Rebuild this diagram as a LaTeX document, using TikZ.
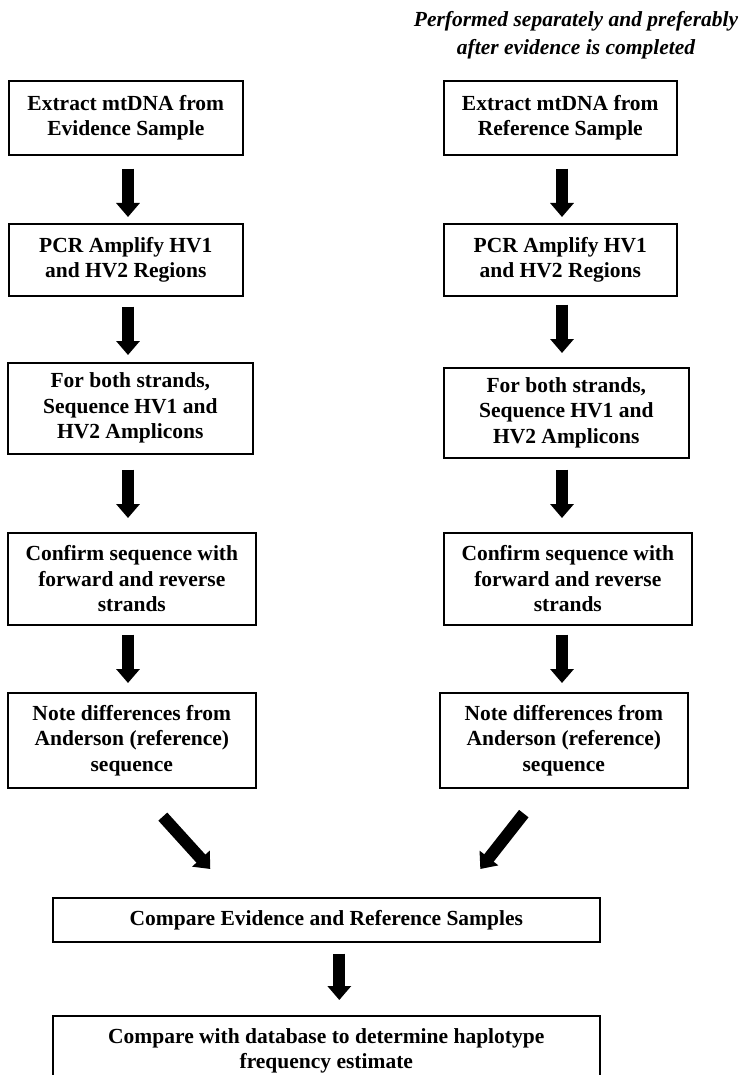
\documentclass[tikz,border=0pt]{standalone}
\usepackage{fontspec}
\setmainfont{Liberation Serif}
\usetikzlibrary{arrows.meta,calc}

\tikzset{
  stepbox/.style={draw=black, line width=1.6pt, rectangle, anchor=north west,
    align=center, inner sep=2pt, font=\bfseries\fontsize{21.5}{25.5}\selectfont},
  fatarrow/.style={draw=black, line width=12pt,
    -{Triangle[width=23pt,length=14pt]}},
  note/.style={align=center, font=\bfseries\itshape\fontsize{21.5}{28}\selectfont}
}

\begin{document}
\begin{tikzpicture}[x=1pt,y=-1pt]
  \useasboundingbox (0,0) rectangle (741,1075);
  \clip (0,0) rectangle (741,1075);

  % column axes for the vertical arrows
  \coordinate (colL) at (128,0);
  \coordinate (colR) at (562,0);

  % header over the reference column
  \node[note] (hdr) at (576,35) {Performed separately and preferably\\after evidence is completed};

  % evidence column
  \node[stepbox, minimum width=234pt, minimum height=74pt] (L1) at (8,80) {Extract mtDNA from\\Evidence Sample};
  \node[stepbox, minimum width=234pt, minimum height=72pt] (L2) at (8,223) {PCR Amplify HV1\\and HV2 Regions};
  \node[stepbox, minimum width=245pt, minimum height=91pt] (L3) at (7,362) {For both strands,\\Sequence HV1 and\\HV2 Amplicons};
  \node[stepbox, minimum width=248pt, minimum height=92pt] (L4) at (7,532) {Confirm sequence with\\forward and reverse\\strands};
  \node[stepbox, minimum width=248pt, minimum height=95pt] (L5) at (7,692) {Note differences from\\Anderson (reference)\\sequence};

  % reference column
  \node[stepbox, minimum width=233pt, minimum height=74pt] (R1) at (443,80) {Extract mtDNA from\\Reference Sample};
  \node[stepbox, minimum width=233pt, minimum height=72pt] (R2) at (443,223) {PCR Amplify HV1\\and HV2 Regions};
  \node[stepbox, minimum width=245pt, minimum height=90pt] (R3) at (443,367) {For both strands,\\Sequence HV1 and\\HV2 Amplicons};
  \node[stepbox, minimum width=248pt, minimum height=92pt] (R4) at (443,532) {Confirm sequence with\\forward and reverse\\strands};
  \node[stepbox, minimum width=248pt, minimum height=95pt] (R5) at (439,692) {Note differences from\\Anderson (reference)\\sequence};

  % joint steps
  \node[stepbox, minimum width=547pt, minimum height=44pt] (C1) at (52,897) {Compare Evidence and Reference Samples};
  \node[stepbox, minimum width=547pt, minimum height=70pt] (C2) at (52,1015) {Compare with database to determine haplotype\\frequency estimate};

  % vertical arrows, evidence column
  \draw[fatarrow, shorten <=13pt, shorten >=6pt] (L1.south -| colL) -- (L2.north -| colL);
  \draw[fatarrow, shorten <=10pt, shorten >=7pt] (L2.south -| colL) -- (L3.north -| colL);
  \draw[fatarrow, shorten <=15pt, shorten >=14pt] (L3.south -| colL) -- (L4.north -| colL);
  \draw[fatarrow, shorten <=9pt, shorten >=9pt] (L4.south -| colL) -- (L5.north -| colL);

  % vertical arrows, reference column
  \draw[fatarrow, shorten <=13pt, shorten >=6pt] (R1.south -| colR) -- (R2.north -| colR);
  \draw[fatarrow, shorten <=8pt, shorten >=14pt] (R2.south -| colR) -- (R3.north -| colR);
  \draw[fatarrow, shorten <=11pt, shorten >=14pt] (R3.south -| colR) -- (R4.north -| colR);
  \draw[fatarrow, shorten <=9pt, shorten >=9pt] (R4.south -| colR) -- (R5.north -| colR);

  % converging arrows
  \coordinate (tailL) at ($(L5.south)+(31,28)$);
  \coordinate (tipL) at ($(C1.north)+(-116,-28)$);
  \coordinate (tailR) at ($(R5.south)+(-40,25)$);
  \coordinate (tipR) at ($(C1.north)+(154,-28)$);
  \draw[fatarrow] (tailL) -- (tipL);
  \draw[fatarrow] (tailR) -- (tipR);

  % final arrow
  \draw[fatarrow, shorten <=11pt, shorten >=15pt] ([xshift=13pt]C1.south) -- ([xshift=13pt]C1.south |- C2.north);
\end{tikzpicture}
\end{document}
